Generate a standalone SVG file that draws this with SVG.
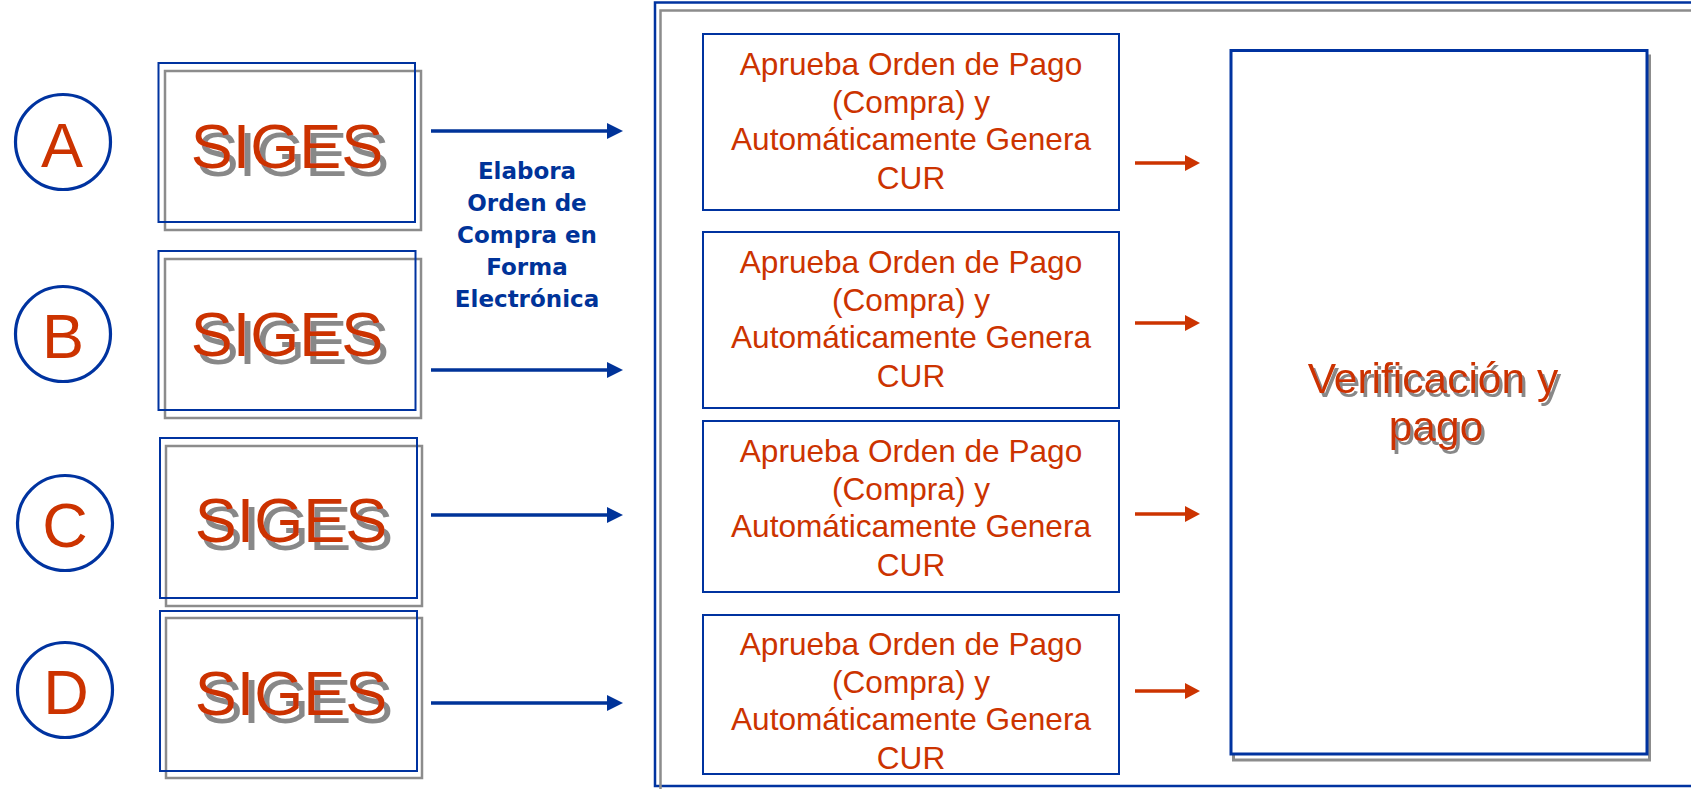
<svg xmlns="http://www.w3.org/2000/svg" width="1691" height="789" viewBox="0 0 1691 789">
<style>
.bg{fill:#ffffff}
.circ{fill:none;stroke:#0033A0;stroke-width:3.2}
.letter{font-family:"Liberation Sans",Arial,sans-serif;font-size:63px;fill:#CC3300;text-anchor:middle}
.bbox{fill:none;stroke:#0033A0;stroke-width:2}
.gbox{fill:none;stroke:#8C8C8C;stroke-width:2.5}
.siges{font-family:"Liberation Sans",Arial,sans-serif;font-size:63px;text-anchor:middle;fill:#CC3300;filter:url(#sh1)}
.pbox{fill:#ffffff;stroke:#0033A0;stroke-width:2}
.ptext{font-family:"Liberation Sans",Arial,sans-serif;font-size:31.6px;fill:#CC3300;text-anchor:middle}
.label{font-family:"DejaVu Sans",Verdana,sans-serif;font-weight:bold;font-size:23px;fill:#003399;text-anchor:middle}
.barrow{stroke:#003399;stroke-width:3.5;fill:none}
.rarrow{stroke:#CC3300;stroke-width:3.5;fill:none}
.vtext{font-family:"Liberation Sans",Arial,sans-serif;font-size:42.5px;text-anchor:middle;fill:#CC3300;filter:url(#sh2)}
</style>
<defs>
<filter id="sh1" x="-10%" y="-30%" width="130%" height="170%">
<feOffset in="SourceAlpha" dx="6" dy="8" result="o"/>
<feFlood flood-color="#888888"/>
<feComposite in2="o" operator="in" result="s"/>
<feMerge><feMergeNode in="s"/><feMergeNode in="SourceGraphic"/></feMerge>
</filter>
<filter id="sh2" x="-10%" y="-30%" width="130%" height="170%">
<feOffset in="SourceAlpha" dx="3" dy="4" result="o"/>
<feFlood flood-color="#888888"/>
<feComposite in2="o" operator="in" result="s"/>
<feMerge><feMergeNode in="s"/><feMergeNode in="SourceGraphic"/></feMerge>
</filter>
<marker id="ab" markerUnits="userSpaceOnUse" markerWidth="17" markerHeight="17" refX="8" refY="8" orient="auto">
<path d="M0,0 L16,8 L0,16 z" fill="#003399"/>
</marker>
<marker id="ar" markerUnits="userSpaceOnUse" markerWidth="17" markerHeight="17" refX="7" refY="8" orient="auto">
<path d="M0,0 L15,8 L0,16 z" fill="#CC3300"/>
</marker>
</defs>
<rect class="bg" x="0" y="0" width="1691" height="789"/>

<g id="frame">
<rect x="655" y="2.5" width="1100" height="783.5" fill="none" stroke="#0033A0" stroke-width="2.5"/>
<rect x="660.5" y="10.5" width="1100" height="800" fill="none" stroke="#8C8C8C" stroke-width="2.5"/>
</g>

<g id="circle-A"><circle class="circ" cx="63" cy="142" r="47.5"/><text class="letter" x="62" y="167">A</text></g>
<g id="circle-B"><circle class="circ" cx="63" cy="334" r="47.5"/><text class="letter" x="63" y="358">B</text></g>
<g id="circle-C"><circle class="circ" cx="65" cy="523" r="47.5"/><text class="letter" x="65" y="547">C</text></g>
<g id="circle-D"><circle class="circ" cx="65" cy="690" r="47.5"/><text class="letter" x="66" y="714">D</text></g>

<g id="siges-A">
<rect class="gbox" x="165" y="71" width="256" height="159"/>
<rect class="bbox" x="158.5" y="63" width="256.5" height="159"/>
<text class="siges" x="287" y="168">SIGES</text>
</g>
<g id="siges-B">
<rect class="gbox" x="165" y="259" width="256" height="159"/>
<rect class="bbox" x="158.5" y="251" width="257" height="159"/>
<text class="siges" x="287" y="356">SIGES</text>
</g>
<g id="siges-C">
<rect class="gbox" x="166" y="446" width="256" height="160"/>
<rect class="bbox" x="160" y="438" width="257" height="160"/>
<text class="siges" x="291" y="542">SIGES</text>
</g>
<g id="siges-D">
<rect class="gbox" x="166" y="618" width="256" height="160"/>
<rect class="bbox" x="160" y="611" width="257" height="160"/>
<text class="siges" x="291" y="715">SIGES</text>
</g>

<g id="label-elabora">
<text class="label" x="527" y="179">Elabora</text>
<text class="label" x="527" y="211">Orden de</text>
<text class="label" x="527" y="243">Compra en</text>
<text class="label" x="527" y="275">Forma</text>
<text class="label" x="527" y="307">Electrónica</text>
</g>

<g id="proc-1">
<rect class="pbox" x="703" y="34" width="416" height="176"/>
<text class="ptext" x="911" y="75">Aprueba Orden de Pago</text>
<text class="ptext" x="911" y="113">(Compra) y</text>
<text class="ptext" x="911" y="150">Automáticamente Genera</text>
<text class="ptext" x="911" y="189">CUR</text>
</g>
<g id="proc-2">
<rect class="pbox" x="703" y="232" width="416" height="176"/>
<text class="ptext" x="911" y="273">Aprueba Orden de Pago</text>
<text class="ptext" x="911" y="311">(Compra) y</text>
<text class="ptext" x="911" y="348">Automáticamente Genera</text>
<text class="ptext" x="911" y="387">CUR</text>
</g>
<g id="proc-3">
<rect class="pbox" x="703" y="421" width="416" height="171"/>
<text class="ptext" x="911" y="462">Aprueba Orden de Pago</text>
<text class="ptext" x="911" y="500">(Compra) y</text>
<text class="ptext" x="911" y="537">Automáticamente Genera</text>
<text class="ptext" x="911" y="576">CUR</text>
</g>
<g id="proc-4">
<rect class="pbox" x="703" y="615" width="416" height="159"/>
<text class="ptext" x="911" y="655">Aprueba Orden de Pago</text>
<text class="ptext" x="911" y="693">(Compra) y</text>
<text class="ptext" x="911" y="730">Automáticamente Genera</text>
<text class="ptext" x="911" y="769">CUR</text>
</g>

<g id="verificacion">
<rect x="1233.5" y="56" width="416" height="704" fill="none" stroke="#8C8C8C" stroke-width="3"/>
<rect x="1231" y="50.5" width="416" height="703.5" fill="#ffffff" stroke="#0033A0" stroke-width="3"/>
<text class="vtext" x="1433" y="393">Verificación y</text>
<text class="vtext" x="1436" y="441">pago</text>
</g>

<g id="connectors">
<line class="barrow" x1="431" y1="131" x2="615" y2="131" marker-end="url(#ab)"/>
<line class="barrow" x1="431" y1="370" x2="615" y2="370" marker-end="url(#ab)"/>
<line class="barrow" x1="431" y1="515" x2="615" y2="515" marker-end="url(#ab)"/>
<line class="barrow" x1="431" y1="703" x2="615" y2="703" marker-end="url(#ab)" stroke-width="4"/>
<line class="rarrow" x1="1135" y1="163" x2="1192" y2="163" marker-end="url(#ar)"/>
<line class="rarrow" x1="1135" y1="323" x2="1192" y2="323" marker-end="url(#ar)"/>
<line class="rarrow" x1="1135" y1="514" x2="1192" y2="514" marker-end="url(#ar)"/>
<line class="rarrow" x1="1135" y1="691" x2="1192" y2="691" marker-end="url(#ar)"/>
</g>
</svg>
